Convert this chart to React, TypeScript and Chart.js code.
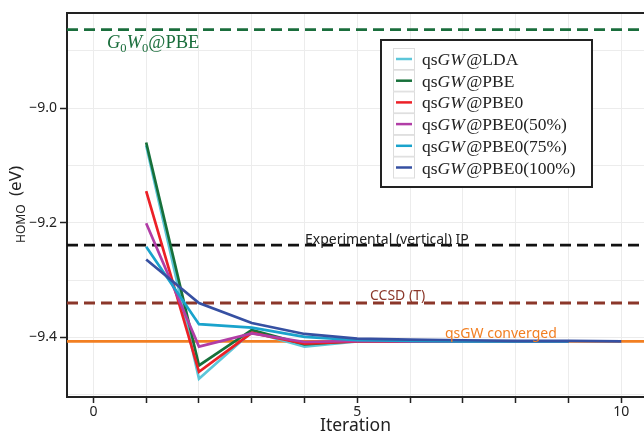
import React, { useEffect, useRef } from "react";
import { Chart, registerables } from "chart.js";

Chart.register(...registerables);

// ---------- data ----------
const seriesLabels = [
  "qsGW@LDA",
  "qsGW@PBE",
  "qsGW@PBE0",
  "qsGW@PBE0(50%)",
  "qsGW@PBE0(75%)",
  "qsGW@PBE0(100%)",
];
const iterations = [1, 2, 3, 4, 5, 6, 7, 8, 9, 10];
const ldaValues = [-9.065, -9.472, -9.39, -9.416, -9.407, -9.407, -9.407, -9.407];
const pbeValues = [-9.06, -9.449, -9.387, -9.412, -9.406, -9.407, -9.407, -9.407, -9.407];
const pbe0Values = [-9.145, -9.46, -9.392, -9.411, -9.407, -9.407];
const pbe050Values = [-9.201, -9.416, -9.393, -9.408, -9.406, -9.407, -9.407, -9.407, -9.407];
const pbe075Values = [-9.242, -9.377, -9.383, -9.399, -9.405, -9.406, -9.407, -9.407, -9.407];
const pbe0100Values = [-9.264, -9.34, -9.375, -9.394, -9.402, -9.404, -9.405, -9.406, -9.406, -9.407];
const seriesValues = [ldaValues, pbeValues, pbe0Values, pbe050Values, pbe075Values, pbe0100Values];
const seriesColors = ["#5cc6d9", "#17703a", "#ec2027", "#b13da6", "#1aa3cc", "#3650a2"];

const refLabels = ["G0W0@PBE", "Experimental (vertical) IP", "CCSD (T)", "qsGW converged"];
const refValues = [-8.863, -9.239, -9.34, -9.407];
const refColors = ["#1a6e3c", "#111111", "#8b372a", "#f27f22"];

const xTickValues = [0, 1, 2, 3, 4, 5, 6, 7, 8, 9, 10];
const xTickLabels = [0, 5, 10];
const yTickValues = [-9.5, -9.4, -9.3, -9.2, -9.1, -9.0, -8.9];
const yTickLabels = [-9.4, -9.2, -9.0];

const X_MIN = -0.5;
const X_MAX = 10.43;
const Y_MIN = -9.504;
const Y_MAX = -8.834;

const SANS = "'Noto Sans', 'Open Sans', sans-serif";
const SERIF = "'Liberation Serif', 'DejaVu Serif', serif";

type Part = { t: string; it?: boolean; sub?: boolean };

function splitGW(label: string): Part[] {
  const i = label.indexOf("GW");
  if (i < 0) return [{ t: label }];
  return [
    { t: label.slice(0, i) },
    { t: "GW", it: true },
    { t: "\u200A" + label.slice(i + 2) },
  ];
}

function drawRich(ctx: CanvasRenderingContext2D, parts: Part[], x: number, y: number, size: number, color: string) {
  let cx = x;
  ctx.fillStyle = color;
  ctx.textBaseline = "alphabetic";
  ctx.textAlign = "left";
  for (const p of parts) {
    const s = p.sub ? size * 0.68 : size;
    ctx.font = `${p.it ? "italic " : ""}${s}px ${SERIF}`;
    const dy = p.sub ? size * 0.22 : 0;
    ctx.fillText(p.t, cx, y + dy);
    cx += ctx.measureText(p.t).width;
  }
}

const decorPlugin = {
  id: "decor",
  afterDatasetsDraw(chart: any) {
    const { ctx, chartArea, scales } = chart;
    const y = scales.y;
    ctx.save();
    // reference line labels
    drawRich(
      ctx,
      [
        { t: "G", it: true },
        { t: "0", sub: true },
        { t: "W", it: true },
        { t: "0", sub: true },
        { t: "@PBE" },
      ],
      107,
      y.getPixelForValue(refValues[0]) + 18,
      18.5,
      refColors[0]
    );
    ctx.font = `14px ${SANS}`;
    ctx.textAlign = "left";
    ctx.textBaseline = "alphabetic";
    ctx.fillStyle = "#222";
    ctx.fillText(refLabels[1], 305, y.getPixelForValue(refValues[1]) - 1);
    ctx.fillStyle = refColors[2];
    ctx.fillText(refLabels[2], 370, y.getPixelForValue(refValues[2]) - 3);
    ctx.fillStyle = refColors[3];
    ctx.fillText(refLabels[3], 445, y.getPixelForValue(refValues[3]) - 3);

    // top spine
    ctx.strokeStyle = "#222";
    ctx.lineWidth = 2;
    ctx.beginPath();
    ctx.moveTo(chartArea.left - 1, chartArea.top);
    ctx.lineTo(chartArea.right, chartArea.top);
    ctx.stroke();

    // y-axis title
    ctx.fillStyle = "#222";
    ctx.save();
    ctx.translate(25, 243);
    ctx.rotate(-Math.PI / 2);
    ctx.font = `12px ${SANS}`;
    ctx.fillText("HOMO", 0, 0);
    ctx.restore();
    ctx.save();
    ctx.translate(21, 196);
    ctx.rotate(-Math.PI / 2);
    ctx.font = `17px ${SANS}`;
    ctx.fillText("(eV)", 0, 0);
    ctx.restore();

    // legend
    const lx = 381, ly = 40, lw = 211, lh = 147;
    ctx.fillStyle = "#ffffff";
    ctx.fillRect(lx, ly, lw, lh);
    ctx.strokeStyle = "#222";
    ctx.lineWidth = 2;
    ctx.strokeRect(lx, ly, lw, lh);
    for (let i = 0; i < seriesLabels.length; i++) {
      const cy = 59 + i * 21.7;
      ctx.strokeStyle = "#dddddd";
      ctx.lineWidth = 1;
      ctx.strokeRect(393.5, cy - 10.5, 21, 21);
      ctx.strokeStyle = seriesColors[i];
      ctx.lineWidth = 2.5;
      ctx.beginPath();
      ctx.moveTo(396, cy);
      ctx.lineTo(412, cy);
      ctx.stroke();
      drawRich(ctx, splitGW(seriesLabels[i]), 422, cy + 6, 17.5, "#222");
    }
    ctx.restore();
  },
};

export default function App() {
  const ref = useRef<HTMLCanvasElement | null>(null);
  useEffect(() => {
    if (!ref.current) return;
    const datasets: any[] = [];
    refValues.forEach((v, i) => {
      datasets.push({
        label: refLabels[i],
        data: [
          { x: X_MIN, y: v },
          { x: X_MAX, y: v },
        ],
        borderColor: refColors[i],
        borderWidth: 2.8,
        borderDash: i === 3 ? [] : [11, 6],
        pointRadius: 0,
        order: 20 + i,
      });
    });
    seriesValues.forEach((vals, i) => {
      datasets.push({
        label: seriesLabels[i],
        data: vals.map((v, j) => ({ x: iterations[j], y: v })),
        borderColor: seriesColors[i],
        borderWidth: 2.7,
        pointRadius: 0,
        tension: 0,
        order: 10 - i,
      });
    });
    const chart = new Chart(ref.current, {
      type: "line",
      data: { datasets },
      options: {
        responsive: false,
        animation: false,
        layout: { padding: { top: 13, left: 0, right: 0, bottom: 0 } },
        plugins: { legend: { display: false }, tooltip: { enabled: false } },
        scales: {
          x: {
            type: "linear",
            min: X_MIN,
            max: X_MAX,
            afterBuildTicks: (s: any) => {
              s.ticks = xTickValues.map((v) => ({ value: v }));
            },
            afterFit: (s: any) => {
              s.height = 38;
            },
            ticks: {
              autoSkip: false,
              maxRotation: 0,
              padding: 1,
              color: "#222",
              font: { family: SANS, size: 14 },
              callback: (v: any) => (xTickLabels.includes(Number(v)) ? String(v) : ""),
            },
            grid: { color: "#ececec", lineWidth: 1, tickColor: "#222", tickLength: 6, tickWidth: 1.5 },
            border: { color: "#222", width: 2 },
            title: {
              display: true,
              text: "Iteration",
              color: "#222",
              font: { family: SANS, size: 17.5 },
              padding: { top: 0, bottom: -2 },
            },
          },
          y: {
            type: "linear",
            min: Y_MIN,
            max: Y_MAX,
            afterBuildTicks: (s: any) => {
              s.ticks = yTickValues.map((v) => ({ value: v }));
            },
            afterFit: (s: any) => {
              s.width = 67;
            },
            ticks: {
              padding: 3,
              color: "#222",
              font: { family: SANS, size: 14 },
              callback: (v: any) => {
                const n = Math.round(Number(v) * 10) / 10;
                return yTickLabels.includes(n) ? "\u2212" + Math.abs(n).toFixed(1) : "";
              },
            },
            grid: {
              color: "#ececec",
              lineWidth: 1,
              tickLength: 7,
              tickWidth: 1.5,
              tickColor: (c: any) => {
                const n = Math.round(Number(c.tick?.value) * 10) / 10;
                return yTickLabels.includes(n) ? "#222" : "rgba(0,0,0,0)";
              },
            },
            border: { color: "#222", width: 2 },
          },
        },
      },
      plugins: [decorPlugin],
    } as any);
    return () => chart.destroy();
  }, []);
  return (
    <div style={{ position: "fixed", left: 0, top: 0, width: 644, height: 435, background: "#fff" }}>
      <canvas ref={ref} width={644} height={435} />
    </div>
  );
}
